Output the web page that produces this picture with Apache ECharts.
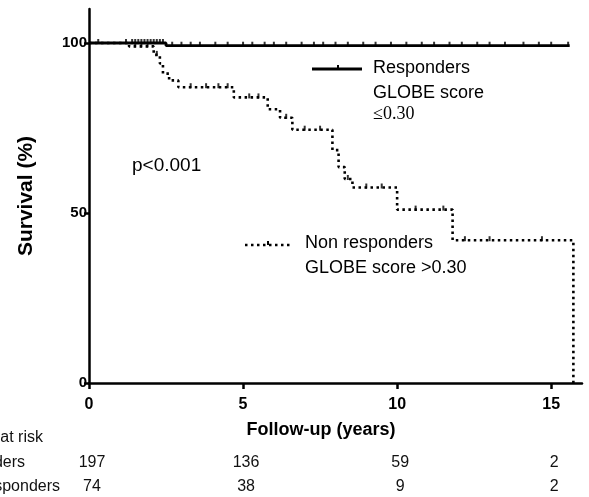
<!DOCTYPE html>
<html>
<head>
<meta charset="utf-8">
<script src="https://cdn.jsdelivr.net/npm/echarts@6/dist/echarts.min.js"></script>
<style>
html, body { margin: 0; padding: 0; background: #fff; }
#km-chart { width: 589px; height: 497px; }
</style>
</head>
<body>
<div id="km-chart"></div>
<script>
// Kaplan-Meier steps [years, survival %]
var responders = [[0, 100], [2.5, 99.2], [15.6, 99.2]];
var nonResponders = [
  [0, 100], [1.3, 99], [2.1, 96.5], [2.3, 94], [2.4, 91], [2.6, 89], [2.9, 87],
  [4.7, 84], [5.8, 80.5], [6.2, 78], [6.6, 74.5], [7.9, 68.5], [8.1, 63.5],
  [8.3, 60], [8.55, 57.5], [10.0, 51], [11.8, 42], [15.72, 0]
];
// censored observations (years)
var respCensor = [0.3, 1.2, 1.4, 1.5, 1.6, 1.7, 1.8, 1.9, 2.0, 2.1, 2.2, 2.3, 2.4,
  2.7, 3.0, 3.3, 3.6, 4.1, 4.5, 5.0, 5.3, 5.7, 6.0, 6.4, 6.9, 7.3, 7.6, 8.0, 8.4,
  8.9, 9.3, 9.8, 10.3, 10.8, 11.2, 11.7, 12.1, 12.6, 13.0, 13.5, 14.1, 14.6, 15.0, 15.55];
var nonRespCensor = [1.5, 1.7, 1.9, 2.2, 3.3, 3.8, 4.2, 4.5, 5.2, 5.5, 6.4, 7.0, 7.5,
  8.4, 9.0, 9.5, 10.6, 11.5, 12.2, 13.0, 14.7];
var xTicks = [0, 5, 10, 15];
var yTicks = [0, 50, 100];
var atRiskResp = [197, 136, 59, 2];
var atRiskNonResp = [74, 38, 9, 2];

var FONT = "'Liberation Sans', Arial, sans-serif";

function survAt(steps, t) {
  var s = steps[0][1];
  for (var i = 0; i < steps.length; i++) {
    if (steps[i][0] <= t) s = steps[i][1];
  }
  return s;
}
function censorPoints(steps, times) {
  return times.map(function (t) { return [t, survAt(steps, t)]; });
}

var kmChart = echarts.init(document.getElementById('km-chart'));

var kmOption = {
  animation: false,
  grid: { left: 89, right: 7, top: 9, bottom: 114 },
  xAxis: {
    type: 'value',
    min: 0,
    max: 16,
    interval: 5,
    splitLine: { show: false },
    axisLine: { lineStyle: { color: '#000', width: 2.5 } },
    axisTick: { customValues: xTicks, length: 6, lineStyle: { color: '#000', width: 2.5 } },
    axisLabel: {
      customValues: xTicks, color: '#000', fontFamily: FONT, fontWeight: 'bold',
      fontSize: 16, margin: 14
    }
  },
  yAxis: {
    type: 'value',
    min: 0,
    max: 110,
    interval: 50,
    name: 'Survival (%)',
    nameLocation: 'middle',
    nameGap: 52,
    nameTextStyle: { color: '#000', fontFamily: FONT, fontWeight: 'bold', fontSize: 21 },
    splitLine: { show: false },
    axisLine: { lineStyle: { color: '#000', width: 2.5 } },
    axisTick: { customValues: yTicks, length: 5, lineStyle: { color: '#000', width: 2.5 } },
    axisLabel: {
      customValues: yTicks, color: '#000', fontFamily: FONT, fontWeight: 'bold',
      fontSize: 15, margin: 2
    }
  },
  series: [{
    name: 'Responders',
    type: 'line',
    step: 'end',
    showSymbol: false,
    data: responders,
    lineStyle: { color: '#000', width: 2.8 }
  }, {
    name: 'Non responders',
    type: 'line',
    step: 'end',
    showSymbol: false,
    data: nonResponders,
    lineStyle: { color: '#000', width: 2.6, type: [2.5, 3.5] }
  }, {
    type: 'scatter',
    data: censorPoints(responders, respCensor),
    symbol: 'rect',
    symbolSize: [2, 5],
    symbolOffset: [0, -1.5],
    itemStyle: { color: '#000' }
  }, {
    type: 'scatter',
    data: censorPoints(nonResponders, nonRespCensor),
    symbol: 'rect',
    symbolSize: [2, 5],
    symbolOffset: [0, -1.5],
    itemStyle: { color: '#000' }
  }]
};

kmChart.setOption(kmOption);

// legend, annotation, axis title and number-at-risk table
var elements = [
  { type: 'line', shape: { x1: 312, y1: 69, x2: 362, y2: 69 }, style: { stroke: '#000', lineWidth: 2.8 } },
  { type: 'line', shape: { x1: 338, y1: 69, x2: 338, y2: 65 }, style: { stroke: '#000', lineWidth: 2 } },
  { type: 'text', left: 373, top: 59, style: { text: 'Responders', fill: '#000', font: '18px ' + FONT } },
  { type: 'text', left: 373, top: 84, style: { text: 'GLOBE score', fill: '#000', font: '18px ' + FONT } },
  { type: 'text', left: 373, top: 105, style: { text: '≤0.30', fill: '#000', font: "18px 'Liberation Serif', 'Times New Roman', serif" } },
  { type: 'line', shape: { x1: 245, y1: 245, x2: 292, y2: 245 }, style: { stroke: '#000', lineWidth: 2.6, lineDash: [2.5, 3.5] } },
  { type: 'line', shape: { x1: 268, y1: 245, x2: 268, y2: 241 }, style: { stroke: '#000', lineWidth: 2 } },
  { type: 'text', left: 305, top: 234, style: { text: 'Non responders', fill: '#000', font: '18px ' + FONT } },
  { type: 'text', left: 305, top: 259, style: { text: 'GLOBE score >0.30', fill: '#000', font: '18px ' + FONT } },
  { type: 'text', left: 132, top: 156, style: { text: 'p<0.001', fill: '#000', font: '19px ' + FONT } },
  { type: 'text', x: 321, y: 430, style: { text: 'Follow-up (years)', fill: '#000', font: 'bold 18px ' + FONT, textAlign: 'center', textVerticalAlign: 'middle' } },
  { type: 'text', x: 43, y: 438, style: { text: 'Number at risk', fill: '#111', font: '16px ' + FONT, textAlign: 'right', textVerticalAlign: 'middle' } },
  { type: 'text', x: 25, y: 463, style: { text: 'Responders', fill: '#111', font: '16px ' + FONT, textAlign: 'right', textVerticalAlign: 'middle' } },
  { type: 'text', x: 60, y: 487, style: { text: 'Non responders', fill: '#111', font: '16px ' + FONT, textAlign: 'right', textVerticalAlign: 'middle' } }
];
xTicks.forEach(function (t, i) {
  var px = kmChart.convertToPixel({ xAxisIndex: 0 }, t) + 3;
  elements.push({ type: 'text', x: px, y: 463, style: { text: String(atRiskResp[i]), fill: '#111', font: '16px ' + FONT, textAlign: 'center', textVerticalAlign: 'middle' } });
  elements.push({ type: 'text', x: px, y: 487, style: { text: String(atRiskNonResp[i]), fill: '#111', font: '16px ' + FONT, textAlign: 'center', textVerticalAlign: 'middle' } });
});

kmChart.setOption({ graphic: { elements: elements } });
</script>
</body>
</html>
